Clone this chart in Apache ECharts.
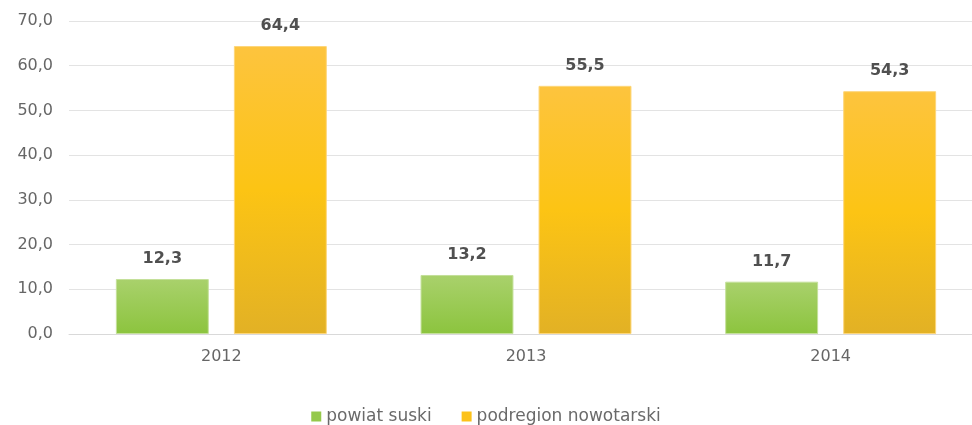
<!DOCTYPE html>
<html>
<head>
<meta charset="utf-8">
<script src="https://cdn.jsdelivr.net/npm/echarts@6/dist/echarts.min.js"></script>
<style>
html, body { margin: 0; padding: 0; background: #fff; }
#chart { width: 972px; height: 425px; }
</style>
</head>
<body>
<div id="chart"></div>
<script>
const years = ['2012', '2013', '2014'];
const powiatSuski = [12.3, 13.2, 11.7];
const podregionNowotarski = [64.4, 55.5, 54.3];
const seriesNames = ['powiat suski', 'podregion nowotarski'];

const fontFam = '"DejaVu Sans", sans-serif';
const fmt = v => Number(v).toFixed(1).replace('.', ',');

const greenGrad = new echarts.graphic.LinearGradient(0, 0, 0, 1, [
    { offset: 0, color: '#a9d16c' },
    { offset: 1, color: '#8cc43e' }
]);
const yellowGrad = new echarts.graphic.LinearGradient(0, 0, 0, 1, [
    { offset: 0, color: '#fdc43e' },
    { offset: 0.5, color: '#fcc414' },
    { offset: 1, color: '#e2b125' }
]);

const labelStyle = {
    show: true,
    position: 'top',
    distance: 12,
    formatter: p => fmt(p.value),
    color: '#505050',
    fontSize: 16,
    fontWeight: 'bold',
    fontFamily: fontFam
};

const chart = echarts.init(document.getElementById('chart'));
chart.setOption({
    animation: false,
    grid: {
        left: 69,
        width: 914,
        top: 21,
        bottom: 91,
        outerBoundsMode: 'none'
    },
    legend: {
        top: 403,
        left: 'center',
        itemWidth: 10,
        itemHeight: 10,
        itemGap: 30,
        icon: 'rect',
        itemStyle: { borderWidth: 0 },
        textStyle: { color: '#6a6a6a', fontSize: 17, fontFamily: fontFam },
        data: [
            { name: seriesNames[0], itemStyle: { color: '#95c94b' } },
            { name: seriesNames[1], itemStyle: { color: '#fcc21a' } }
        ]
    },
    xAxis: {
        type: 'category',
        data: years,
        axisLine: { lineStyle: { color: '#d9d9d9' } },
        axisTick: { show: false },
        axisLabel: { color: '#666666', fontSize: 16, fontFamily: fontFam, margin: 15 }
    },
    yAxis: {
        type: 'value',
        min: 0,
        max: 70,
        interval: 10,
        axisLine: { show: false },
        axisTick: { show: false },
        splitLine: { lineStyle: { color: '#e3e3e3' } },
        axisLabel: { color: '#666666', fontSize: 16, fontFamily: fontFam, margin: 16, formatter: v => fmt(v) }
    },
    series: [{
        name: seriesNames[0],
        type: 'bar',
        data: powiatSuski,
        barWidth: '30.5%',
        barGap: '27%',
        itemStyle: { color: greenGrad, borderColor: '#c4e09a', borderWidth: 1 },
        label: labelStyle
    }, {
        name: seriesNames[1],
        type: 'bar',
        data: podregionNowotarski,
        barWidth: '30.5%',
        itemStyle: { color: yellowGrad, borderColor: '#fdd67a', borderWidth: 1 },
        label: labelStyle
    }]
});
</script>
</body>
</html>
